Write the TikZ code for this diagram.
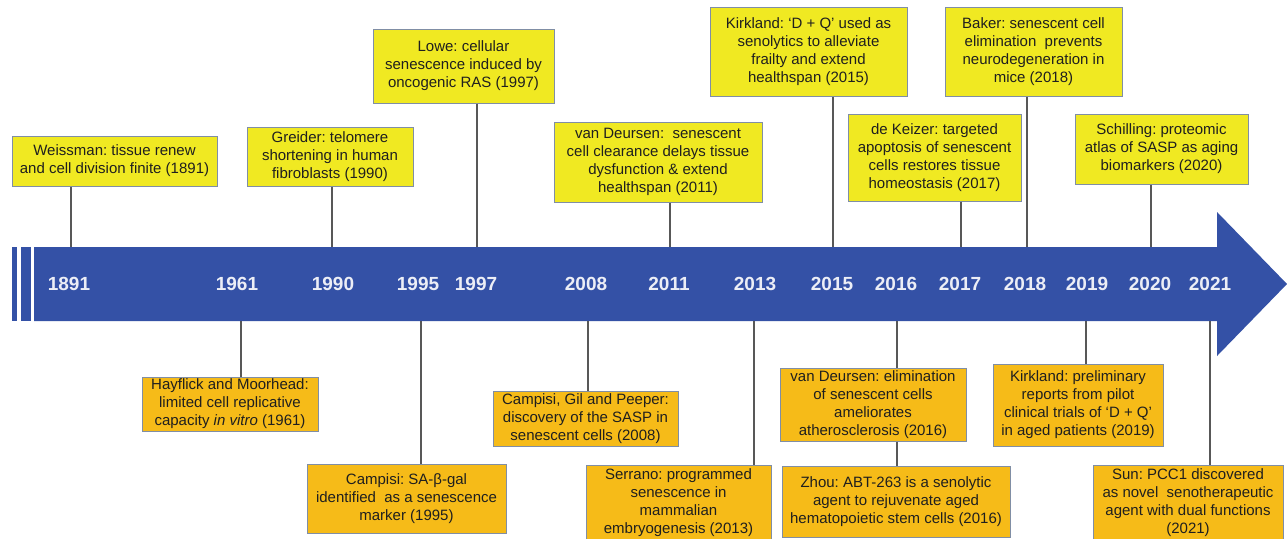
\documentclass[tikz,border=0pt]{standalone}
\usepackage{fontspec}
\setmainfont{Liberation Sans}
\frenchspacing
\definecolor{barblue}{RGB}{52,81,166}
\definecolor{boxyellow}{RGB}{240,233,34}
\definecolor{boxorange}{RGB}{246,187,24}
\definecolor{boxline}{RGB}{128,142,165}
\definecolor{connc}{RGB}{88,88,88}
\definecolor{yeartxt}{RGB}{236,238,246}
\tikzset{
  evbox/.style={draw=boxline, line width=1pt, inner sep=2pt, align=center,
    font=\fontsize{15}{18}\selectfont\frenchspacing, text=black!88},
  topbox/.style={evbox, fill=boxyellow},
  botbox/.style={evbox, fill=boxorange},
  connline/.style={draw=connc, line width=1.4pt},
  yearlbl/.style={text=yeartxt, font=\fontsize{19}{22}\selectfont\bfseries, inner sep=0pt},
}
\begin{document}
\begin{tikzpicture}[x=1pt,y=-1pt]
\useasboundingbox[fill=white] (0,0) rectangle (1287,538);
% timeline arrow
\fill[barblue] (34,247) -- (1217,247) -- (1217,212) -- (1287,284) -- (1217,356) -- (1217,321) -- (34,321) -- cycle;
\fill[barblue] (12,247) rectangle (17,321);
\fill[barblue] (21,247) rectangle (31,321);
% years
\foreach \yr/\xx in {1891/69,1961/237,1990/333,1995/418,1997/476,2008/586,2011/669,2013/755,2015/832,2016/896,2017/960,2018/1025,2019/1087,2020/1150,2021/1210}
  \node[yearlbl] (y\yr) at (\xx,284) {\yr};
% anchor points on the bar
\foreach \nm/\xx in {t1891/71,t1990/332,t1997/477,t2011/670,t2015/833,t2017/961,t2018/1027,t2020/1151}
  \coordinate (\nm) at (\xx,247);
\foreach \nm/\xx in {b1961/241,b1995/421,b2008/588,b2013/754,b2016/897,b2019/1086,b2021/1210}
  \coordinate (\nm) at (\xx,321);
% top boxes
\node[topbox, minimum width=205pt, minimum height=50pt] (wei) at (114.5,161) {Weissman: tissue renew\\and cell division finite (1891)};
\node[topbox, minimum width=166pt, minimum height=59pt] (gre) at (330,156.5) {Greider: telomere\\shortening in human\\fibroblasts (1990)};
\node[topbox, minimum width=181pt, minimum height=74pt] (low) at (463.5,66) {Lowe: cellular\\senescence induced by\\oncogenic RAS (1997)};
\node[topbox, minimum width=208pt, minimum height=80pt] (vd11) at (658,162) {van Deursen:\ \ senescent\\cell clearance delays tissue\\dysfunction \& extend\\healthspan (2011)};
\node[topbox, minimum width=197pt, minimum height=89pt] (kir15) at (808.5,51.5) {Kirkland: ‘D + Q’ used as\\senolytics to alleviate\\frailty and extend\\healthspan (2015)};
\node[topbox, minimum width=173pt, minimum height=87pt] (dek) at (934.5,157.5) {de Keizer: targeted\\apoptosis of senescent\\cells restores tissue\\homeostasis (2017)};
\node[topbox, minimum width=177pt, minimum height=89pt] (bak) at (1033.5,51.5) {Baker: senescent cell\\elimination\ \ prevents\\neurodegeneration in\\mice (2018)};
\node[topbox, minimum width=173pt, minimum height=70pt] (sch) at (1161.5,149) {Schilling: proteomic\\atlas of SASP as aging\\biomarkers (2020)};
% bottom boxes
\node[botbox, minimum width=176pt, minimum height=54pt] (hay) at (230,404) {Hayflick and Moorhead:\\limited cell replicative\\capacity \textit{in vitro} (1961)};
\node[botbox, minimum width=199pt, minimum height=69pt] (cam) at (406.5,498.5) {Campisi: SA-β-gal\\identified\ \ as a senescence\\marker (1995)};
\node[botbox, minimum width=185pt, minimum height=55pt] (cgp) at (585.5,418.5) {Campisi, Gil and Peeper:\\discovery of the SASP in\\senescent cells (2008)};
\node[botbox, minimum width=185pt, minimum height=75pt] (ser) at (678.5,502.5) {Serrano: programmed\\senescence in\\mammalian\\embryogenesis (2013)};
\node[botbox, minimum width=186pt, minimum height=73pt] (vd16) at (873,404.5) {van Deursen: elimination\\of senescent cells\\ameliorates\\atherosclerosis (2016)};
\node[botbox, minimum width=228pt, minimum height=71pt] (zho) at (896,501.5) {Zhou: ABT-263 is a senolytic\\agent to rejuvenate aged\\hematopoietic stem cells (2016)};
\node[botbox, minimum width=170pt, minimum height=82pt] (kir19) at (1078,405) {Kirkland: preliminary\\reports from pilot\\clinical trials of ‘D + Q’\\in aged patients (2019)};
\node[botbox, minimum width=190pt, minimum height=75pt] (sun) at (1188,502.5) {Sun: PCC1 discovered\\as novel\ \ senotherapeutic\\agent with dual functions\\(2021)};
% connectors
\draw[connline] (wei.south -| t1891) -- (t1891);
\draw[connline] (gre.south -| t1990) -- (t1990);
\draw[connline] (low.south -| t1997) -- (t1997);
\draw[connline] (vd11.south -| t2011) -- (t2011);
\draw[connline] (kir15.south -| t2015) -- (t2015);
\draw[connline] (dek.south -| t2017) -- (t2017);
\draw[connline] (bak.south -| t2018) -- (t2018);
\draw[connline] (sch.south -| t2020) -- (t2020);
\draw[connline] (b1961) -- (hay.north -| b1961);
\draw[connline] (b1995) -- (cam.north -| b1995);
\draw[connline] (b2008) -- (cgp.north -| b2008);
\draw[connline] (b2013) -- (ser.north -| b2013);
\draw[connline] (b2016) -- (vd16.north -| b2016);
\draw[connline] (vd16.south -| b2016) -- (zho.north -| b2016);
\draw[connline] (b2019) -- (kir19.north -| b2019);
\draw[connline] (b2021) -- (sun.north -| b2021);
\end{tikzpicture}
\end{document}
